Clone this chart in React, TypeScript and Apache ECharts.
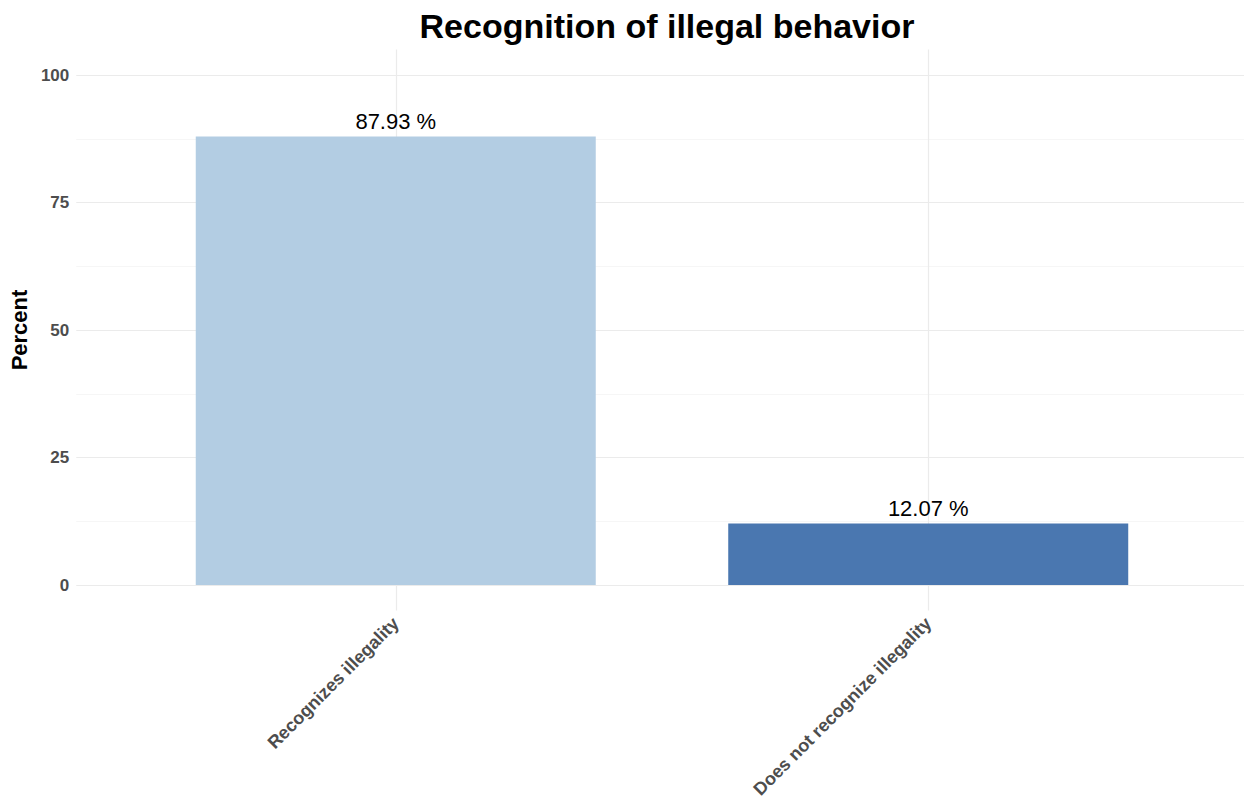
import React, { useEffect, useRef } from "react";
import * as echarts from "echarts";

const title = "Recognition of illegal behavior";
const categories = ["Recognizes illegality", "Does not recognize illegality"];
const values = [87.93, 12.07];
const barColors = ["#b3cde3", "#4a77b0"];
const yTicks = [0, 25, 50, 75, 100];
const yMinorTicks = [12.5, 37.5, 62.5, 87.5];
const xPositions = [1, 2];

const FONT = "'Liberation Sans', Arial, Helvetica, sans-serif";

export default function App() {
  const ref = useRef<HTMLDivElement>(null);
  useEffect(() => {
    if (!ref.current) return;
    const chart = echarts.init(ref.current, null, { renderer: "svg" });
    const data = values.map((v, i) => ({
      value: [xPositions[i], v],
      itemStyle: { color: barColors[i] },
    }));
    chart.setOption({
      animation: false,
      backgroundColor: "#ffffff",
      title: {
        text: title,
        left: 662,
        textAlign: "center",
        top: 4,
        textStyle: { fontFamily: FONT, fontSize: 34, fontWeight: "bold", color: "#000" },
      },
      grid: { left: 75, top: 49.5, right: 0, height: 561, containLabel: false },
      xAxis: {
        type: "value",
        min: 0.4,
        max: 2.593,
        axisLine: { show: false },
        axisTick: { show: false, customValues: xPositions },
        axisLabel: {
          customValues: xPositions,
          formatter: (v: number) => categories[Math.round(v) - 1] ?? "",
          rotate: 45,
          margin: 10,
          fontFamily: FONT,
          fontSize: 18,
          fontWeight: "bold",
          color: "#4d4d4d",
        },
        splitLine: { show: true, lineStyle: { color: "#ebebeb", width: 1.2 } },
      },
      yAxis: [
        {
          type: "value",
          min: -5,
          max: 105,
          name: "Percent",
          nameLocation: "middle",
          nameRotate: 90,
          nameGap: 44,
          nameTextStyle: { fontFamily: FONT, fontSize: 22, fontWeight: "bold", color: "#000" },
          axisLine: { show: false },
          axisTick: { show: false, customValues: yTicks },
          axisLabel: {
            customValues: yTicks,
            margin: 7,
            fontFamily: FONT,
            fontSize: 17,
            fontWeight: "bold",
            color: "#4d4d4d",
          },
          splitLine: { show: true, lineStyle: { color: "#ebebeb", width: 1.2 } },
        },
        {
          type: "value",
          min: -5,
          max: 105,
          position: "left",
          axisLine: { show: false },
          axisTick: { show: false, customValues: yMinorTicks },
          axisLabel: { show: false, customValues: yMinorTicks },
          splitLine: { show: true, lineStyle: { color: "#f6f6f6", width: 1 } },
        },
      ],
      series: [
        {
          type: "bar",
          data,
          barWidth: 400,
          yAxisIndex: 0,
          label: {
            show: true,
            position: "top",
            distance: 4,
            formatter: (p: any) => `${p.value[1].toFixed(2)} %`,
            fontFamily: FONT,
            fontSize: 22,
            color: "#000",
          },
        },
      ],
    });
    return () => chart.dispose();
  }, []);
  return <div ref={ref} style={{ width: 1244, height: 803, position: "absolute", left: 0, top: 0 }} />;
}
